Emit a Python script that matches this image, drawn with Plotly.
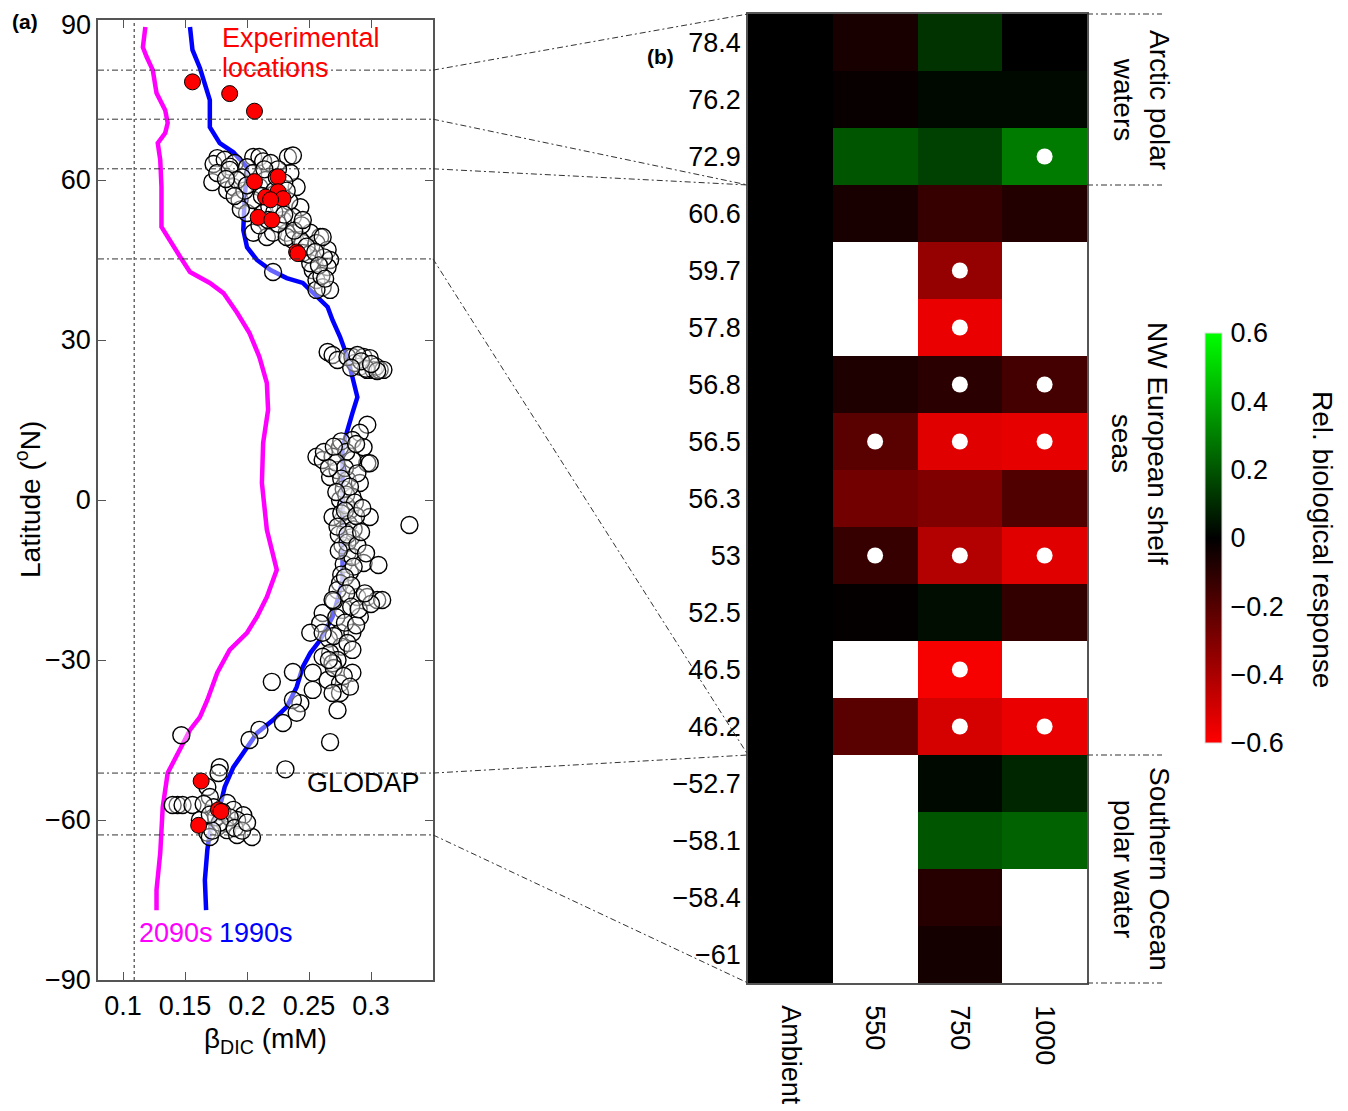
import plotly.graph_objects as go

# The page body has an 8px margin, so the figure is drawn 8px smaller and positions are offset.
OFF = 8
W, H = 1348 - OFF, 1111 - OFF
FONT = "Liberation Sans, Arial, Helvetica, sans-serif"
FS = 27


def px(x):
    return (x - OFF) / W


def py(y):
    return 1 - (y - OFF) / H


# ---------------- Panel (a) data ----------------
lat_1990s = [88.7, 84.4, 81.0, 76.9, 75.0, 69.9, 66.9, 65.2, 62.4, 56.2, 50.6, 47.4, 45.0, 43.1,
             41.6, 40.7, 38.8, 36.2, 33.7, 30.6, 26.8, 23.1, 19.3, 16.3, 13.1, 9.9, 2.4, -5.6,
             -15.0, -18.75, -21.9, -26.25, -28.7, -31.3, -35.1, -38.8, -41.25, -43.7, -46.9,
             -50.1, -53.8, -57.6, -62.4, -65.6, -71.25, -76.9]
beta_1990s = [0.154, 0.156, 0.162, 0.168, 0.170, 0.170, 0.178, 0.189, 0.200, 0.198, 0.197, 0.200,
              0.208, 0.219, 0.232, 0.245, 0.253, 0.265, 0.269, 0.275, 0.281, 0.285, 0.289, 0.285,
              0.281, 0.277, 0.277, 0.277, 0.277, 0.273, 0.269, 0.259, 0.251, 0.245, 0.240, 0.232,
              0.221, 0.208, 0.198, 0.189, 0.182, 0.178, 0.170, 0.168, 0.166, 0.167]

lat_2090s = [88.7, 84.9, 83.1, 80.6, 76.3, 73.1, 70.7, 68.8, 66.9, 63.75, 58.7, 51.2, 45.6, 42.75,
             40.7, 38.8, 35.1, 31.3, 26.8, 21.9, 16.9, 10.7, 3.2, -5.6, -13.1, -18.2, -21.9, -24.9,
             -28.1, -32.4, -37.5, -40.7, -43.1, -47.4, -51.2, -57.6, -66.2, -73.1, -76.9]
beta_2090s = [0.118, 0.116, 0.119, 0.124, 0.127, 0.134, 0.136, 0.134, 0.128, 0.130, 0.131, 0.131,
              0.146, 0.154, 0.170, 0.181, 0.192, 0.202, 0.210, 0.216, 0.217, 0.213, 0.212, 0.216,
              0.224, 0.216, 0.208, 0.200, 0.186, 0.176, 0.168, 0.162, 0.154, 0.144, 0.136, 0.132,
              0.130, 0.127, 0.127]

# GLODAP observations (beta_DIC, latitude)
glodap_points = [
    # northern cluster
    (0.176, 64.1), (0.173, 63.0), (0.182, 63.8), (0.190, 63.2), (0.186, 62.5), (0.205, 64.3),
    (0.210, 64.3), (0.233, 64.3), (0.237, 64.6), (0.213, 63.5), (0.219, 63.2), (0.172, 59.6),
    (0.176, 61.3), (0.186, 61.9), (0.184, 58.1), (0.189, 58.7), (0.194, 56.25), (0.200, 53.8),
    (0.205, 50.1), (0.216, 49.3), (0.221, 50.1), (0.232, 50.1), (0.237, 48.75), (0.243, 54.9),
    (0.240, 58.7), (0.235, 61.3), (0.200, 62.4), (0.205, 61.3), (0.210, 58.7), (0.205, 56.25),
    (0.213, 53.8), (0.229, 52.5), (0.227, 54.9), (0.237, 53.1), (0.259, 49.3), (0.251, 50.1),
    (0.245, 48.2), (0.232, 49.3), (0.243, 48.75), (0.256, 48.2), (0.265, 46.9), (0.267, 45.0),
    (0.265, 43.7), (0.253, 43.1), (0.256, 41.25), (0.261, 39.9), (0.267, 39.4), (0.256, 39.4),
    (0.251, 44.4), (0.245, 46.3), (0.261, 49.3), (0.196, 60.5), (0.215, 60.0),
    (0.222, 58.0), (0.228, 57.0), (0.218, 55.0), (0.198, 58.0), (0.192, 60.0), (0.225, 62.0),
    (0.230, 59.5), (0.234, 56.0), (0.244, 51.5), (0.250, 46.0), (0.260, 42.0), (0.262, 45.5),
    (0.225, 51.8), (0.210, 51.5), (0.195, 54.5), (0.183, 60.2), (0.200, 59.0), (0.212, 57.0),
    (0.222, 54.0), (0.217, 52.5), (0.230, 53.5), (0.238, 50.5), (0.248, 47.5), (0.255, 46.5),
    (0.258, 44.0), (0.263, 41.5), (0.214, 62.0), (0.224, 60.5), (0.232, 58.0), (0.245, 52.5),
    (0.190, 57.0), (0.221, 42.75),
    # subtropical cluster
    (0.265, 27.75), (0.269, 27.2), (0.273, 26.25), (0.285, 26.8), (0.294, 26.8), (0.299, 26.6),
    (0.291, 25.0), (0.297, 24.4), (0.302, 24.4), (0.307, 24.4), (0.287, 25.7), (0.281, 26.8),
    (0.304, 25.0), (0.310, 24.4), (0.289, 27.2), (0.296, 24.6), (0.305, 24.2), (0.292, 26.0),
    (0.284, 24.8), (0.300, 25.5),
    # equatorial column
    (0.297, 14.1), (0.291, 12.6), (0.285, 11.25), (0.275, 9.9), (0.256, 8.1), (0.261, 7.5),
    (0.269, 8.1), (0.267, 4.3), (0.273, 5.6), (0.294, 9.9), (0.297, 6.9), (0.299, 6.9),
    (0.285, 7.5), (0.281, 3.75), (0.291, 3.2), (0.285, 0.6), (0.275, 0.0), (0.283, -1.9),
    (0.299, -3.2), (0.277, -3.75), (0.269, -3.2), (0.331, -4.7), (0.278, 2.0), (0.280, -1.0),
    (0.276, -2.5), (0.282, -4.5), (0.279, -6.0), (0.284, -7.0), (0.277, -8.5), (0.281, -10.0),
    (0.278, -12.0), (0.283, -13.5), (0.276, -14.0), (0.280, 1.0), (0.286, -5.5), (0.274, -6.5),
    (0.281, -8.0), (0.285, -10.7), (0.294, -11.8), (0.306, -12.2), (0.275, -15.6), (0.273, -16.9),
    (0.289, -18.2), (0.297, -18.2), (0.305, -18.75), (0.309, -18.75), (0.277, -20.6),
    (0.291, -21.9), (0.261, -21.2), (0.259, -23.1), (0.251, -24.9), (0.275, -24.9), (0.285, -24.9),
    (0.276, 11.0), (0.280, 9.0), (0.288, 10.5), (0.272, 7.0), (0.279, 6.0), (0.289, 5.0),
    (0.276, 4.0), (0.283, 2.5), (0.272, 1.5), (0.287, -0.5), (0.279, -2.0), (0.273, -5.0),
    (0.288, -3.0), (0.281, -6.5), (0.289, -8.5), (0.274, -9.5), (0.286, -12.5), (0.279, -14.5),
    (0.284, -16.0), (0.270, -19.0), (0.280, -17.5), (0.284, -20.0), (0.272, -22.0), (0.279, -23.0),
    (0.288, -23.5), (0.266, -26.0), (0.276, -27.5), (0.270, -25.5), (0.290, -20.5), (0.296, -10.0),
    (0.292, -6.0), (0.293, -1.5), (0.266, 6.0), (0.262, 9.0), (0.270, 10.0),
    # southern subtropics
    (0.281, -26.8), (0.267, -28.7), (0.261, -29.4), (0.273, -30.0), (0.269, -30.6), (0.285, -28.1),
    (0.285, -32.4), (0.253, -32.4), (0.265, -33.75), (0.275, -34.4), (0.275, -36.2), (0.269, -36.2),
    (0.273, -39.4), (0.237, -32.25), (0.220, -34.1), (0.253, -35.6), (0.243, -38.1), (0.237, -37.5),
    (0.229, -41.8), (0.210, -43.1), (0.202, -45.0), (0.267, -45.4), (0.240, -39.9), (0.261, -24.9),
    (0.269, -18.75), (0.300, -19.5), (0.295, -17.5), (0.270, -31.5), (0.266, -30.0), (0.278, -33.0),
    (0.283, -35.0),
    # southern ocean
    (0.231, -50.5), (0.147, -44.1), (0.178, -50.1), (0.177, -51.2), (0.168, -53.8), (0.144, -57.2),
    (0.140, -57.2), (0.148, -57.2), (0.156, -57.2), (0.170, -55.7), (0.173, -57.6), (0.184, -56.8),
    (0.189, -58.1), (0.197, -59.1), (0.192, -60.0), (0.182, -60.6), (0.176, -61.3), (0.168, -62.4),
    (0.170, -63.2), (0.184, -61.9), (0.192, -62.8), (0.204, -63.2), (0.162, -60.0), (0.180, -58.5),
    (0.175, -59.5), (0.186, -59.5), (0.178, -60.5), (0.190, -61.5), (0.196, -62.0), (0.172, -62.0),
    (0.200, -60.5), (0.165, -57.0), (0.170, -59.0),
]
glodap_beta = [p[0] for p in glodap_points]
glodap_lat = [p[1] for p in glodap_points]

exp_lat = [78.4, 76.2, 72.9, 60.6, 59.7, 57.8, 56.8, 56.5, 56.3, 53, 52.5, 46.5, 46.2,
           -52.7, -58.1, -58.4, -61]
exp_beta = [0.156, 0.186, 0.206, 0.225, 0.206, 0.225, 0.215, 0.229, 0.219, 0.209, 0.220,
            0.240, 0.241, 0.163, 0.177, 0.179, 0.161]

region_lat_bounds = [80.6, 71.4, 62.1, 45.2, -51.2, -62.8]
region_row_bounds = [-0.5, 2.5, 2.5, 12.5, 12.5, 16.5]
ref_beta = 0.109

x_ticks_a = [0.1, 0.15, 0.2, 0.25, 0.3]
y_ticks_a = [-90, -60, -30, 0, 30, 60, 90]

# ---------------- Panel (b) data ----------------
row_labels = ["78.4", "76.2", "72.9", "60.6", "59.7", "57.8", "56.8", "56.5", "56.3", "53",
              "52.5", "46.5", "46.2", "\u221252.7", "\u221258.1", "\u221258.4", "\u221261"]
col_labels = ["Ambient", "550", "750", "1000"]
resp_ambient = [0.0] * 17
resp_550 = [-0.06, -0.02, 0.20, -0.06, None, None, -0.07, -0.21, -0.27, -0.13, -0.01, None,
            -0.21, None, None, None, None]
resp_750 = [0.12, 0.02, 0.15, -0.13, -0.35, -0.55, -0.10, -0.53, -0.30, -0.42, 0.03, -0.58,
            -0.50, 0.02, 0.20, -0.09, -0.05]
resp_1000 = [0.00, 0.02, 0.29, -0.08, None, None, -0.16, -0.54, -0.19, -0.53, -0.12, None,
             -0.55, 0.09, 0.23, None, None]
sig_rows = ["72.9", "59.7", "57.8", "56.8", "56.8", "56.5", "56.5", "56.5", "53", "53", "53",
            "46.5", "46.2", "46.2"]
sig_cols = ["1000", "750", "750", "750", "1000", "550", "750", "1000", "550", "750", "1000",
            "750", "750", "1000"]
cbar_ticks = [-0.6, -0.4, -0.2, 0, 0.2, 0.4, 0.6]

# ---------------- layout geometry (reference pixels) ----------------
ax_a_x = [px(98), px(433)]
ax_a_y = [py(980), py(20)]
ax_b_x = [px(748), px(1087)]
ax_b_y = [py(983), py(14)]
xr_a = [0.0798, 0.35]

fig = go.Figure()

fig.add_trace(go.Scatter(x=beta_2090s, y=lat_2090s, mode="lines",
                         line=dict(color="#ff00ff", width=4.5), xaxis="x", yaxis="y",
                         showlegend=False, hoverinfo="skip"))
fig.add_trace(go.Scatter(x=beta_1990s, y=lat_1990s, mode="lines",
                         line=dict(color="#0000ff", width=4.5), xaxis="x", yaxis="y",
                         showlegend=False, hoverinfo="skip"))
fig.add_trace(go.Scatter(x=glodap_beta, y=glodap_lat, mode="markers",
                         marker=dict(size=17, color="rgba(255,255,255,0.4)",
                                     line=dict(color="black", width=1.4)),
                         xaxis="x", yaxis="y", showlegend=False))
fig.add_trace(go.Scatter(x=exp_beta, y=exp_lat, mode="markers",
                         marker=dict(size=16, color="#ff0000", line=dict(color="black", width=1)),
                         xaxis="x", yaxis="y", showlegend=False))

z = [[a, b, c, d] for a, b, c, d in zip(resp_ambient, resp_550, resp_750, resp_1000)]
fig.add_trace(go.Heatmap(
    z=z, x=list(range(len(col_labels))), y=list(range(len(row_labels))),
    xaxis="x2", yaxis="y2", zmin=-0.6, zmax=0.6,
    colorscale=[[0, "rgb(255,0,0)"], [0.5, "rgb(0,0,0)"], [1, "rgb(0,255,0)"]],
    hoverongaps=False,
    colorbar=dict(x=px(1205), xanchor="left", xpad=0, y=py(538), yanchor="middle",
                  len=410 / H, lenmode="fraction", thickness=17, thicknessmode="pixels",
                  ypad=0, tickvals=cbar_ticks,
                  ticktext=[("\u2212" + str(abs(t))) if t < 0 else str(t) for t in cbar_ticks],
                  ticks="outside", ticklen=3, tickcolor="rgba(0,0,0,0)",
                  tickfont=dict(family=FONT, size=FS, color="black"),
                  outlinewidth=1, outlinecolor="#dddddd"),
))
fig.add_trace(go.Scatter(
    x=[col_labels.index(c) for c in sig_cols],
    y=[row_labels.index(r) for r in sig_rows],
    mode="markers", marker=dict(size=16, color="white"),
    xaxis="x2", yaxis="y2", showlegend=False, hoverinfo="skip"))

axis_common = dict(showgrid=False, zeroline=False, showline=True, linecolor="#555555",
                   linewidth=1.5, automargin=False,
                   tickfont=dict(family=FONT, size=FS, color="black"))

y_ticktext = [("\u2212" + str(abs(v))) if v < 0 else str(v) for v in y_ticks_a]
y_ticktext[-1] = ""  # top label drawn as an annotation so it is not clipped at the page edge

fig.update_layout(
    template="none",
    width=W, height=H, margin=dict(l=0, r=0, t=0, b=0, pad=0), autosize=False,
    paper_bgcolor="white", plot_bgcolor="white",
    font=dict(family=FONT, size=FS, color="black"),
    xaxis=dict(domain=ax_a_x, range=xr_a, tickvals=x_ticks_a,
               ticktext=[str(v) for v in x_ticks_a], ticks="inside", ticklen=8,
               tickcolor="#555555", mirror="ticks", ticklabelstandoff=1, anchor="y",
               **axis_common),
    yaxis=dict(domain=ax_a_y, range=[-90, 90], tickvals=y_ticks_a, ticktext=y_ticktext,
               ticks="inside", ticklen=8, tickcolor="#555555", mirror="ticks",
               ticklabelstandoff=0, anchor="x", **axis_common),
    xaxis2=dict(domain=ax_b_x, range=[-0.5, 3.5], tickvals=list(range(4)), ticktext=col_labels,
                tickangle=90, ticks="", mirror=True, ticklabelstandoff=15, anchor="y2",
                **axis_common),
    yaxis2=dict(domain=ax_b_y, range=[16.5, -0.5], tickvals=list(range(17)),
                ticktext=row_labels, ticks="", mirror=True, ticklabelstandoff=0,
                anchor="x2", **axis_common),
)


def lat_to_paper(lat):
    return ax_a_y[0] + (lat + 90) / 180 * (ax_a_y[1] - ax_a_y[0])


def row_to_paper(r):
    return ax_b_y[0] + (16.5 - r) / 17 * (ax_b_y[1] - ax_b_y[0])


shapes = []
line_style = dict(color="#333333", width=1, dash="6px,3px,2px,3px")
shapes.append(dict(type="line", xref="x", yref="y domain", x0=ref_beta, x1=ref_beta,
                   y0=0, y1=1, line=dict(color="#444444", width=1.2, dash="dot")))
for lat, rb in zip(region_lat_bounds, region_row_bounds):
    shapes.append(dict(type="line", xref="x domain", yref="y", x0=0, x1=1, y0=lat, y1=lat,
                       line=line_style))
    shapes.append(dict(type="line", xref="paper", yref="paper", x0=ax_a_x[1], x1=ax_b_x[0],
                       y0=lat_to_paper(lat), y1=row_to_paper(rb), line=line_style))
for rb in sorted(set(region_row_bounds)):
    shapes.append(dict(type="line", xref="paper", yref="paper", x0=ax_b_x[1], x1=px(1162),
                       y0=row_to_paper(rb), y1=row_to_paper(rb), line=line_style))
fig.update_layout(shapes=shapes)

ann = []


def add_ann(text, x, y, xref="paper", yref="paper", size=FS, color="black", angle=0,
            xanchor="center", yanchor="middle", align="center"):
    ann.append(dict(text=text, x=x, y=y, xref=xref, yref=yref, showarrow=False,
                    font=dict(family=FONT, size=size, color=color), textangle=angle,
                    xanchor=xanchor, yanchor=yanchor, align=align))


add_ann(str(y_ticks_a[-1]), px(93), 1.0, xanchor="right", yanchor="top")
add_ann("<b>(a)</b>", px(10), py(21), size=21, xanchor="left")
add_ann("<b>(b)</b>", px(645), py(57), size=21, xanchor="left")
add_ann("Experimental", 0.178, 86.6, xref="x", yref="y", color="#ff0000", xanchor="left")
add_ann("locations", 0.178, 81.0, xref="x", yref="y", color="#ff0000", xanchor="left")
add_ann("GLODAP", 0.247, -53.1, xref="x", yref="y", xanchor="left")
add_ann("2090s", 0.111, -81.2, xref="x", yref="y", color="#ff00ff", xanchor="left")
add_ann("1990s", 0.176, -81.2, xref="x", yref="y", color="#0000ff", xanchor="left")
add_ann("Latitude (<sup>o</sup>N)", px(28), py(500), size=28, angle=-90)
add_ann("\u03b2<sub>DIC</sub> (mM)", px(265), py(1040), size=28)
add_ann("Arctic polar<br>waters", px(1142), py(100), size=28, angle=90)
add_ann("NW European shelf<br>seas", px(1140), py(443), size=28, angle=90)
add_ann("Southern Ocean<br>polar water", px(1142), py(869), size=28, angle=90)
add_ann("Rel. biological response", px(1323), py(539), size=28, angle=90)
fig.update_layout(annotations=ann)

fig.write_html("out.html")
